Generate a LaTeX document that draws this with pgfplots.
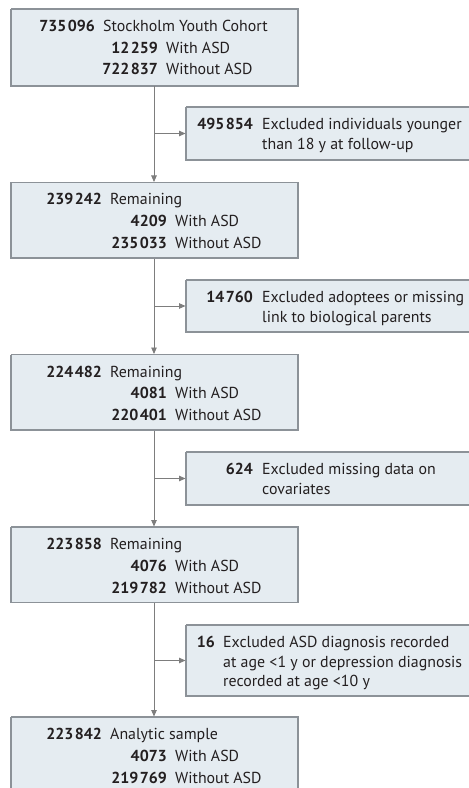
\documentclass[border=0pt]{standalone}
\usepackage{pgfplots}
\pgfplotsset{compat=1.18}
\usepackage{fontspec}
\setmainfont{PT Sans}
\usetikzlibrary{arrows.meta}
\definecolor{boxfill}{RGB}{229,236,241}
\definecolor{boxdraw}{RGB}{140,146,152}
\definecolor{arrowcol}{RGB}{125,125,125}
\definecolor{txt}{RGB}{35,31,32}
\newcommand{\ts}{\hspace{1.4bp}}
% number end x, text start x, baseline y, number, text
\newcommand{\nt}[5]{%
  \node[anchor=base east, inner sep=0pt, text=txt] at (axis cs:#1,#3) {\bfseries #4};
  \node[anchor=base west, inner sep=0pt, text=txt] at (axis cs:#2,#3) {#5};}
\newcommand{\tx}[3]{%
  \node[anchor=base west, inner sep=0pt, text=txt] at (axis cs:#1,#2) {#3};}
\begin{document}
\fontsize{15.9bp}{19bp}\selectfont
\begin{tikzpicture}
\begin{axis}[
  name=ax,
  scale only axis, width=469bp, height=788bp,
  xmin=0, xmax=469, ymin=0, ymax=788, y dir=reverse,
  axis lines=none, xtick=\empty, ytick=\empty,
  clip=true,
]
% main boxes
\addplot[draw=boxdraw, fill=boxfill, line width=1.1bp] coordinates {(11,9) (298,9) (298,86) (11,86) (11,9)};
\addplot[draw=boxdraw, fill=boxfill, line width=1.1bp] coordinates {(11,182.5) (298,182.5) (298,258) (11,258) (11,182.5)};
\addplot[draw=boxdraw, fill=boxfill, line width=1.1bp] coordinates {(11,354.5) (298,354.5) (298,430) (11,430) (11,354.5)};
\addplot[draw=boxdraw, fill=boxfill, line width=1.1bp] coordinates {(11,527) (298,527) (298,602.5) (11,602.5) (11,527)};
\addplot[draw=boxdraw, fill=boxfill, line width=1.1bp] coordinates {(11,717) (298,717) (298,800) (11,800) (11,717)};
% exclusion boxes
\addplot[draw=boxdraw, fill=boxfill, line width=1.1bp] coordinates {(186,107) (480,107) (480,160) (186,160) (186,107)};
\addplot[draw=boxdraw, fill=boxfill, line width=1.1bp] coordinates {(186,280) (480,280) (480,332) (186,332) (186,280)};
\addplot[draw=boxdraw, fill=boxfill, line width=1.1bp] coordinates {(186,452) (480,452) (480,505) (186,505) (186,452)};
\addplot[draw=boxdraw, fill=boxfill, line width=1.1bp] coordinates {(186,625) (480,625) (480,696) (186,696) (186,625)};
% vertical arrows
\addplot[arrowcol, line width=0.9bp, -{Triangle[width=5.5bp,length=6.5bp]}] coordinates {(154,86.5) (154,182)};
\addplot[arrowcol, line width=0.9bp, -{Triangle[width=5.5bp,length=6.5bp]}] coordinates {(154,258.5) (154,354)};
\addplot[arrowcol, line width=0.9bp, -{Triangle[width=5.5bp,length=6.5bp]}] coordinates {(154,430.5) (154,526.5)};
\addplot[arrowcol, line width=0.9bp, -{Triangle[width=5.5bp,length=6.5bp]}] coordinates {(154,603) (154,716.5)};
% branch arrows
\addplot[arrowcol, line width=0.9bp, -{Triangle[width=5.5bp,length=6.5bp]}] coordinates {(154,133.5) (185.5,133.5)};
\addplot[arrowcol, line width=0.9bp, -{Triangle[width=5.5bp,length=6.5bp]}] coordinates {(154,306) (185.5,306)};
\addplot[arrowcol, line width=0.9bp, -{Triangle[width=5.5bp,length=6.5bp]}] coordinates {(154,478.5) (185.5,478.5)};
\addplot[arrowcol, line width=0.9bp, -{Triangle[width=5.5bp,length=6.5bp]}] coordinates {(154,660.5) (185.5,660.5)};
% box 1
\nt{95}{103}{31.5}{735\ts096}{Stockholm Youth Cohort}
\nt{158}{166}{53.3}{12\ts259}{With ASD}
\nt{158}{166}{75}{722\ts837}{Without ASD}
% box 2
\nt{102}{110}{205}{239\ts242}{Remaining}
\nt{167}{175}{226.8}{4209}{With ASD}
\nt{167}{175}{248.5}{235\ts033}{Without ASD}
% box 3
\nt{102}{110}{377}{224\ts482}{Remaining}
\nt{167}{175}{398.8}{4081}{With ASD}
\nt{167}{175}{420.5}{220\ts401}{Without ASD}
% box 4
\nt{102}{110}{549.5}{223\ts858}{Remaining}
\nt{167}{175}{571.3}{4076}{With ASD}
\nt{167}{175}{593}{219\ts782}{Without ASD}
% box 5
\nt{102}{110}{739.5}{223\ts842}{Analytic sample}
\nt{167}{175}{761.3}{4073}{With ASD}
\nt{167}{175}{783}{219\ts769}{Without ASD}
% exclusion 1
\nt{253}{262}{130}{495\ts854}{Excluded individuals younger}
\tx{262}{149.2}{than 18 y at follow-up}
% exclusion 2
\nt{253}{262}{302.8}{14\ts760}{Excluded adoptees or missing}
\tx{262}{322}{link to biological parents}
% exclusion 3
\nt{253}{262}{474.8}{624}{Excluded missing data on}
\tx{262}{494}{covariates}
% exclusion 4
\nt{215}{223}{647.8}{16}{Excluded ASD diagnosis recorded}
\tx{223}{667}{at age <1 y or depression diagnosis}
\tx{223}{686.2}{recorded at age <10 y}
\end{axis}
\pgfresetboundingbox
\path[use as bounding box] (ax.south west) rectangle (ax.north east);
\end{tikzpicture}
\end{document}
